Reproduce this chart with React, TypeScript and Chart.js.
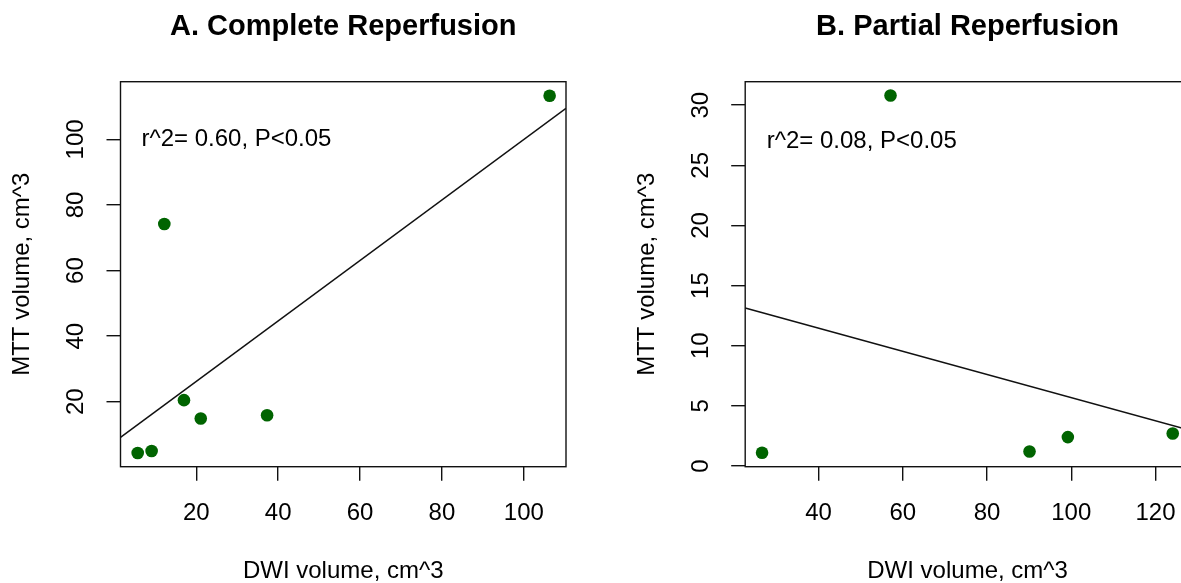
import React, { useEffect, useRef } from "react";
import { Chart, registerables } from "chart.js";

Chart.register(...registerables);

const FONT = '"Liberation Sans", Arial, Helvetica, sans-serif';

// ---- Text ----
const titleA = "A. Complete Reperfusion";
const titleB = "B. Partial Reperfusion";
const xLabel = "DWI volume, cm^3";
const yLabel = "MTT volume, cm^3";
const noteA = "r^2= 0.60, P<0.05";
const noteB = "r^2= 0.08, P<0.05";

// ---- Panel A data ----
const dwiA = [5.7, 9.1, 12.2, 17.0, 21.1, 37.3, 106.3];
const mttA = [4.4, 5.0, 74.2, 20.5, 14.9, 15.9, 113.3];
const fitA = [7.77, 0.922]; // intercept, slope
const notePosA = [6.6, 100];
const xTicksA = [20, 40, 60, 80, 100];
const yTicksA = [20, 40, 60, 80, 100];
const xRangeA = [1.5, 110.3];
const yRangeA = [0.2, 117.6];

// ---- Panel B data ----
const dwiB = [26.6, 57.1, 90.1, 99.2, 124.1];
const mttB = [1.1, 30.8, 1.2, 2.4, 2.7];
const fitB = [15.32, -0.0964]; // intercept, slope
const notePosB = [27.7, 27.0];
const xTicksB = [40, 60, 80, 100, 120];
const yTicksB = [0, 5, 10, 15, 20, 25, 30];
const xRangeB = [22.6, 128.2];
const yRangeB = [-0.06, 31.95];

type PanelProps = {
  left: number;
  width: number;
  padLeft: number;
  padRight: number;
  title: string;
  note: string;
  notePos: number[];
  xs: number[];
  ys: number[];
  fit: number[];
  xTicks: number[];
  yTicks: number[];
  xRange: number[];
  yRange: number[];
};

const HEIGHT = 583;

function Panel(p: PanelProps) {
  const ref = useRef<HTMLCanvasElement | null>(null);

  useEffect(() => {
    if (!ref.current) return;
    const textPlugin = {
      id: "rText",
      afterDraw(chart: any) {
        const { ctx, chartArea: a, scales } = chart;
        const x = scales.x;
        const y = scales.y;
        ctx.save();
        ctx.strokeStyle = "#111";
        ctx.lineWidth = 1.4;
        ctx.strokeRect(a.left, a.top, a.right - a.left, a.bottom - a.top);

        ctx.fillStyle = "#000";
        ctx.font = `24px ${FONT}`;
        ctx.textAlign = "center";
        ctx.textBaseline = "alphabetic";
        for (const v of p.xTicks) {
          ctx.fillText(String(v), x.getPixelForValue(v), a.bottom + 53);
        }
        for (const v of p.yTicks) {
          ctx.save();
          ctx.translate(a.left - 44, y.getPixelForValue(v));
          ctx.rotate(-Math.PI / 2);
          ctx.textBaseline = "middle";
          ctx.fillText(String(v), 0, 0);
          ctx.restore();
        }
        const cx = (a.left + a.right) / 2;
        const cy = (a.top + a.bottom) / 2;
        ctx.fillText(xLabel, cx, a.bottom + 111.5);
        ctx.save();
        ctx.translate(a.left - 98, cy);
        ctx.rotate(-Math.PI / 2);
        ctx.textBaseline = "middle";
        ctx.fillText(yLabel, 0, 0);
        ctx.restore();

        ctx.textAlign = "left";
        ctx.textBaseline = "middle";
        ctx.fillText(p.note, x.getPixelForValue(p.notePos[0]), y.getPixelForValue(p.notePos[1]));

        ctx.font = `bold 29px ${FONT}`;
        ctx.textAlign = "center";
        ctx.textBaseline = "alphabetic";
        ctx.fillText(p.title, cx, 35);
        ctx.restore();
      },
    };

    const linePts = [
      { x: p.xRange[0], y: p.fit[0] + p.fit[1] * p.xRange[0] },
      { x: p.xRange[1], y: p.fit[0] + p.fit[1] * p.xRange[1] },
    ];

    const axis = (range: number[], ticks: number[]) => ({
      type: "linear" as const,
      min: range[0],
      max: range[1],
      afterBuildTicks: (scale: any) => {
        scale.ticks = ticks.map((v) => ({ value: v }));
      },
      ticks: { display: false },
      border: { display: false },
      grid: {
        display: true,
        drawOnChartArea: false,
        drawTicks: true,
        tickLength: 14,
        color: "#111",
        lineWidth: 1.4,
      },
      title: { display: false },
    });

    const chart = new Chart(ref.current, {
      type: "scatter",
      data: {
        datasets: [
          {
            data: p.xs.map((v, i) => ({ x: v, y: p.ys[i] })),
            backgroundColor: "#006400",
            borderWidth: 0,
            pointRadius: 6.3,
            pointHoverRadius: 6.3,
            order: 2,
          },
          {
            data: linePts,
            showLine: true,
            borderColor: "#111",
            borderWidth: 1.5,
            pointRadius: 0,
            pointHoverRadius: 0,
            order: 1,
          },
        ],
      },
      options: {
        animation: false,
        responsive: false,
        devicePixelRatio: 1,
        layout: {
          padding: { left: p.padLeft, right: p.padRight, top: 81.7, bottom: 102.3 },
        },
        plugins: { legend: { display: false }, tooltip: { enabled: false } },
        scales: {
          x: axis(p.xRange, p.xTicks),
          y: axis(p.yRange, p.yTicks),
        },
      },
      plugins: [textPlugin],
    } as any);
    return () => chart.destroy();
  }, []);

  return (
    <canvas
      ref={ref}
      width={p.width}
      height={HEIGHT}
      style={{ position: "absolute", left: p.left, top: 0, width: p.width, height: HEIGHT }}
    />
  );
}

export default function App() {
  return (
    <div
      style={{
        position: "fixed",
        left: 0,
        top: 0,
        width: 1181,
        height: HEIGHT,
        overflow: "hidden",
        background: "#fff",
      }}
    >
      <Panel
        left={0}
        width={600}
        padLeft={106.5}
        padRight={34}
        title={titleA}
        note={noteA}
        notePos={notePosA}
        xs={dwiA}
        ys={mttA}
        fit={fitA}
        xTicks={xTicksA}
        yTicks={yTicksA}
        xRange={xRangeA}
        yRange={yRangeA}
      />
      <Panel
        left={620}
        width={600}
        padLeft={111.2}
        padRight={30}
        title={titleB}
        note={noteB}
        notePos={notePosB}
        xs={dwiB}
        ys={mttB}
        fit={fitB}
        xTicks={xTicksB}
        yTicks={yTicksB}
        xRange={xRangeB}
        yRange={yRangeB}
      />
    </div>
  );
}
